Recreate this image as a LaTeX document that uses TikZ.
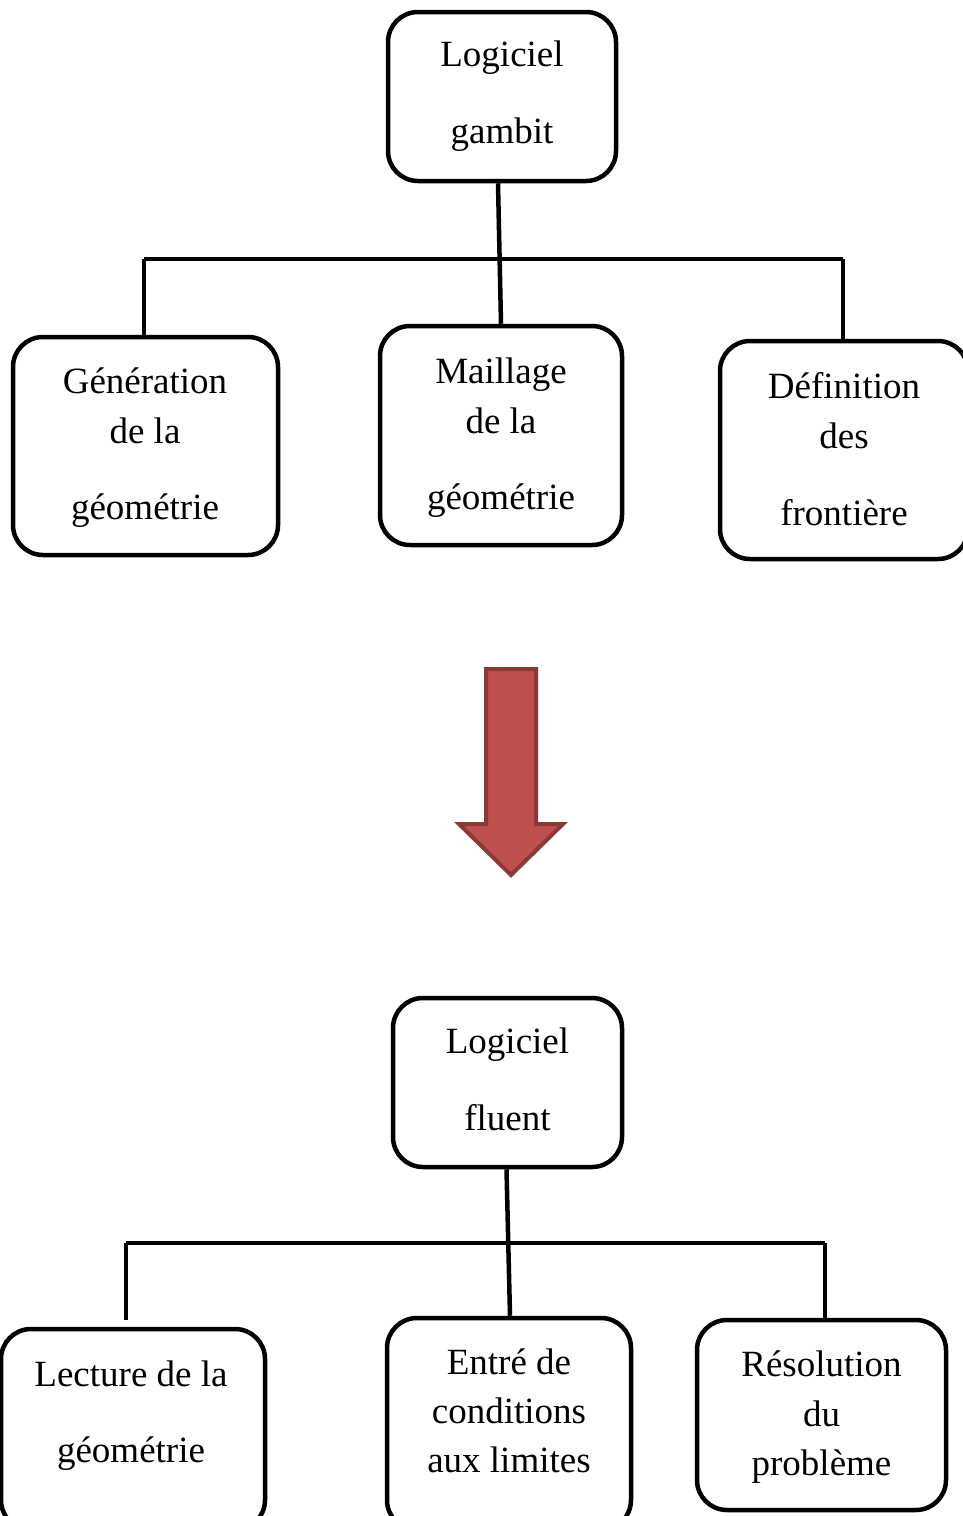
\documentclass[tikz,border=0pt]{standalone}
\usepackage{fontspec}
\setmainfont{Liberation Serif}
\definecolor{arrowfill}{RGB}{192,80,77}
\definecolor{arrowline}{RGB}{140,56,54}
\tikzset{
  box/.style={draw=black, line width=4.5pt, rounded corners=30pt, fill=white, inner sep=0pt},
  txt/.style={align=center, inner sep=0pt, font=\fontsize{37}{50}\selectfont},
  conn/.style={draw=black, line width=4.5pt},
  bigarrow/.style={fill=arrowfill, draw=arrowline, line width=4pt, line join=miter}
}
\begin{document}
\begin{tikzpicture}[x=1pt,y=-1pt]
\useasboundingbox (0,0) rectangle (963,1516);
% top group
\node[box, minimum width=228pt, minimum height=169pt] (gam) at (502,96.5) {};
\node[txt] (gamt) at (502,96.5) {Logiciel\\[27pt]gambit};
\node[box, minimum width=265pt, minimum height=218pt] (gen) at (145.5,446) {};
\node[txt] (gent) at (145,448) {Génération\\de la\\[26pt]géométrie};
\node[box, minimum width=242pt, minimum height=219pt] (mai) at (501,435.5) {};
\node[txt] (mait) at (501,438) {Maillage\\de la\\[26pt]géométrie};
\node[box, minimum width=248pt, minimum height=218pt] (def) at (844,450) {};
\node[txt] (deft) at (844,449.5) {Définition\\des\\[27pt]frontière};
\coordinate (busL) at (144,259);
\coordinate (busR) at (843,259);
\draw[conn] (busL) -- (busR);
\draw[conn] ([xshift=-4pt]gam.south) -- (mai.north);
\draw[conn] (busL) -- (busL |- gen.north);
\draw[conn] (busR) -- (busR |- def.north);
% arrow
\path[bigarrow] (486,669) -- (536,669) -- (536,824) -- (563,824) -- (511,875) -- (459,824) -- (486,824) -- cycle;
% bottom group
\node[box, minimum width=229pt, minimum height=169pt] (flu) at (507.5,1082.5) {};
\node[txt] (flut) at (507.5,1079.5) {Logiciel\\[27pt]fluent};
\node[box, minimum width=264pt, minimum height=201pt] (lec) at (133,1429.5) {};
\node[txt] (lect) at (131,1416) {Lecture de la\\[26pt]géométrie};
\node[box, minimum width=244pt, minimum height=212pt] (ent) at (509,1424) {};
\node[txt, font=\fontsize{37}{49}\selectfont] (entt) at (509,1411) {Entré de\\conditions\\aux limites};
\node[box, minimum width=249pt, minimum height=190pt] (res) at (821.5,1415) {};
\node[txt, font=\fontsize{37}{49.5}\selectfont] (rest) at (821.5,1417.5) {Résolution\\du\\problème};
\coordinate (bbL) at (126,1243);
\coordinate (bbR) at (825,1243);
\draw[conn] (bbL) -- (bbR);
\draw[conn] ([xshift=-1pt]flu.south) -- ([xshift=1pt]ent.north);
\draw[conn] (bbL) -- ([yshift=7pt]bbL |- lec.north);
\draw[conn] (bbR) -- (bbR |- res.north);
\end{tikzpicture}
\end{document}
